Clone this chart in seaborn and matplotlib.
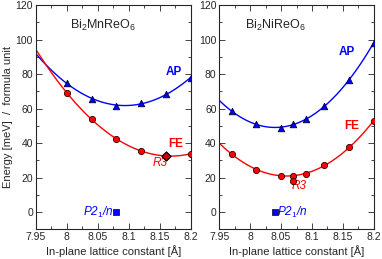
import matplotlib
matplotlib.use('Agg')
import matplotlib.pyplot as plt
import seaborn as sns
import numpy as np
import pandas as pd

# ── data ──────────────────────────────────────────────────────────
# Bi2MnReO6
mn_ap_x = [8.00, 8.04, 8.08, 8.12, 8.16, 8.20]
mn_ap_e = [75.0, 65.4, 61.5, 63.3, 68.5, 77.7]
mn_fe_x = [8.00, 8.04, 8.08, 8.12, 8.16, 8.20]
mn_fe_e = [69.2, 53.8, 42.3, 35.4, 32.7, 33.7]
mn_r3_x = [8.16]
mn_r3_e = [32.7]
mn_p21_x = [8.08]
mn_p21_e = [0.0]

# Bi2NiReO6
ni_ap_x = [7.97, 8.01, 8.05, 8.07, 8.09, 8.12, 8.16, 8.20]
ni_ap_e = [58.5, 51.0, 48.8, 50.8, 53.7, 61.5, 76.7, 98.0]
ni_fe_x = [7.97, 8.01, 8.05, 8.07, 8.09, 8.12, 8.16, 8.20]
ni_fe_e = [33.8, 24.6, 20.8, 20.8, 22.3, 27.3, 37.9, 52.5]
ni_r3_x = [8.07]
ni_r3_e = [18.1]
ni_p21_x = [8.04]
ni_p21_e = [0.0]

x_ticks = [7.95, 8.00, 8.05, 8.10, 8.15, 8.20]
x_ticklabels = ['7.95', '8', '8.05', '8.1', '8.15', '8.2']
y_ticks = [0, 20, 40, 60, 80, 100, 120]

BLUE = '#0000ff'
RED = '#ff0000'

sns.set_style('ticks')
plt.rcParams['font.family'] = ['Liberation Sans', 'DejaVu Sans']
plt.rcParams['mathtext.fontset'] = 'custom'
plt.rcParams['mathtext.rm'] = 'Liberation Sans'
plt.rcParams['mathtext.it'] = 'Liberation Sans:italic'

fig = plt.figure(figsize=(3.82, 2.59), dpi=100)
ax1 = fig.add_axes([0.0935, 0.1147, 0.4058, 0.866])
ax2 = fig.add_axes([0.5741, 0.1147, 0.4042, 0.866])


def panel(ax, ap_x, ap_e, fe_x, fe_e, order_ap, order_fe):
    ax.set_xlim(7.95, 8.2)
    ax.set_ylim(-10, 120)
    sns.regplot(x=np.array(ap_x), y=np.array(ap_e), order=order_ap, ci=None, truncate=False,
                scatter=False, color=BLUE, line_kws={'lw': 1.0}, ax=ax)
    sns.regplot(x=np.array(fe_x), y=np.array(fe_e), order=order_fe, ci=None, truncate=False,
                scatter=False, color=RED, line_kws={'lw': 1.0}, ax=ax)
    sns.scatterplot(x=ap_x, y=ap_e, marker='^', s=22, color=BLUE, edgecolor='#000033',
                    linewidth=0.6, zorder=5, ax=ax)
    sns.scatterplot(x=fe_x, y=fe_e, marker='o', s=20, color=RED, edgecolor='#330000',
                    linewidth=0.6, zorder=5, ax=ax)
    ax.set_xlim(7.95, 8.2)
    ax.set_ylim(-10, 120)
    ax.set_xticks(x_ticks)
    ax.set_xticklabels(x_ticklabels)
    ax.set_xticks(np.arange(7.95, 8.2001, 0.025), minor=True)
    ax.set_yticks(y_ticks)
    ax.set_yticks(np.arange(-10, 121, 10), minor=True)
    ax.tick_params(which='both', direction='in', top=True, right=True, labelsize=7.5, pad=2,
                   width=0.6)
    ax.tick_params(which='major', length=4)
    ax.tick_params(which='minor', length=2)
    for s in ax.spines.values():
        s.set_linewidth(0.8)
    ax.set_xlabel('In-plane lattice constant [Å]', fontsize=8, labelpad=2)


panel(ax1, mn_ap_x, mn_ap_e, mn_fe_x, mn_fe_e, 2, 2)
panel(ax2, ni_ap_x, ni_ap_e, ni_fe_x, ni_fe_e, 2, 2)

# special markers
sns.scatterplot(x=mn_r3_x, y=mn_r3_e, marker='D', s=22, color='#cc0000', edgecolor='black',
                linewidth=0.8, zorder=6, ax=ax1)
sns.scatterplot(x=ni_r3_x, y=ni_r3_e, marker='o', s=20, color=RED, edgecolor='#330000',
                linewidth=0.6, zorder=6, ax=ax2)
for ax, px, pe in [(ax1, mn_p21_x, mn_p21_e), (ax2, ni_p21_x, ni_p21_e)]:
    sns.scatterplot(x=px, y=pe, marker='s', s=14, color=BLUE, edgecolor='#000033',
                    linewidth=0.5, zorder=6, ax=ax)

ax1.set_ylabel('Energy [meV]  /  formula unit', fontsize=8, labelpad=2)

# labels
ax1.text(8.005, 108, 'Bi$_2$MnReO$_6$', fontsize=9, va='center', ha='left')
ax1.text(8.16, 81, 'AP', fontsize=8.5, fontweight='bold', color=BLUE, va='center')
ax1.text(8.163, 39.4, 'FE', fontsize=8.5, fontweight='bold', color=RED, va='center')
ax1.text(8.138, 32, 'R3', fontsize=8.5, style='italic', color=RED, va='top')
ax1.text(8.075, 0, 'P2$_1$/n', fontsize=8.5, style='italic', color=BLUE, ha='right', va='center')

ax2.text(7.992, 108, 'Bi$_2$NiReO$_6$', fontsize=9, va='center', ha='left')
ax2.text(8.144, 92.6, 'AP', fontsize=8.5, fontweight='bold', color=BLUE, va='center')
ax2.text(8.152, 49.9, 'FE', fontsize=8.5, fontweight='bold', color=RED, va='center')
ax2.text(8.067, 15.3, 'R3', fontsize=8.5, style='italic', color=RED, va='center')
ax2.text(8.043, 0, 'P2$_1$/n', fontsize=8.5, style='italic', color=BLUE, ha='left', va='center')

fig.savefig('out.png', dpi=100)
